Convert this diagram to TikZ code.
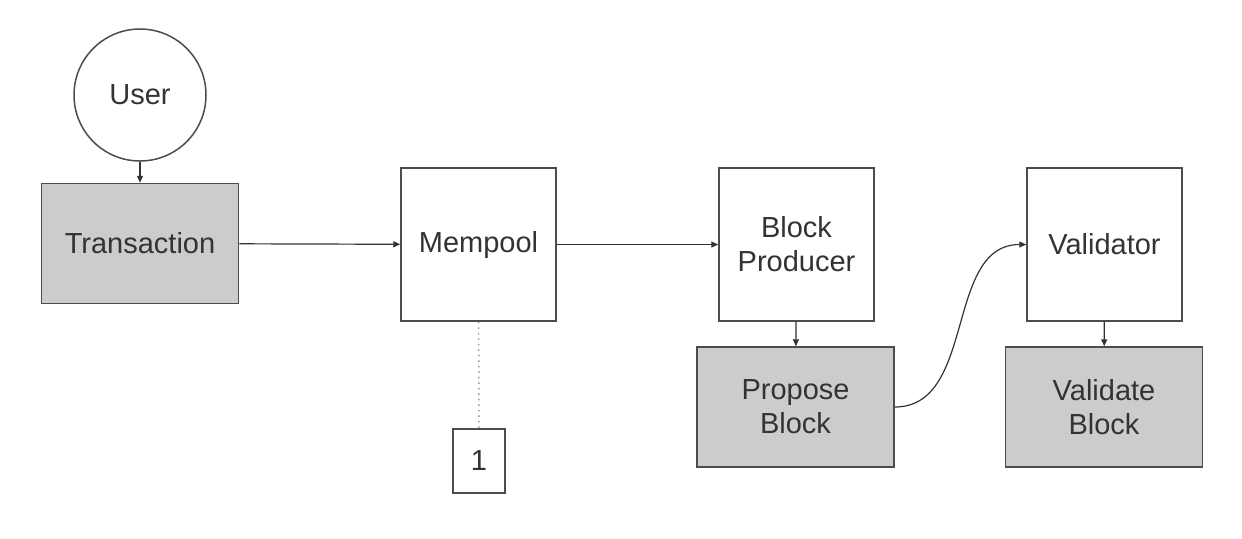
\documentclass[tikz,border=0pt]{standalone}
\usepackage{fontspec}
\setmainfont{Liberation Sans}
\usetikzlibrary{arrows.meta, positioning}

\begin{document}
\begin{tikzpicture}[x=0.5pt,y=-0.5pt,
  font=\fontsize{14.5}{17}\selectfont,
  box/.style={draw=black!70,line width=0.75pt,text=black!80,align=center,
    minimum width=77.5pt,minimum height=76.5pt,inner sep=0pt},
  act/.style={box,fill=black!20,minimum width=98.5pt,minimum height=60pt},
  flow/.style={-{Triangle[length=3.5pt,width=3pt]},draw=black!80,line width=0.6pt}]
\useasboundingbox (0,0) rectangle (1242,538);
\node[draw=black!70,line width=0.75pt,circle,minimum size=66pt,text=black!80] (user) at (140,95) {User};
\node[act] (tx) at (140,243.5) {Transaction};
\node[box] (mempool) at (478.5,244.5) {Mempool};
\node[box] (producer) at (796.5,244.5) {Block\\Producer};
\node[box] (validator) at (1104.5,244.5) {Validator};
\node[act] (propose) at (795.5,407) {Propose\\Block};
\node[act] (validate) at (1104,407) {Validate\\Block};
\node[box,minimum width=26pt,minimum height=32pt] (one) at (479,461) {1};
% flow of a transaction
\draw[flow] (user) -- (tx);
\draw[flow] (tx) -- (mempool);
\draw[flow] (mempool) -- (producer);
\draw[flow] (producer) -- (propose);
\draw[flow] (propose.east) to[out=0,in=180] (validator.west);
\draw[flow] (validator) -- (validate);
\draw[black!40,dotted,line width=0.75pt] (mempool) -- (one);
\end{tikzpicture}
\end{document}
